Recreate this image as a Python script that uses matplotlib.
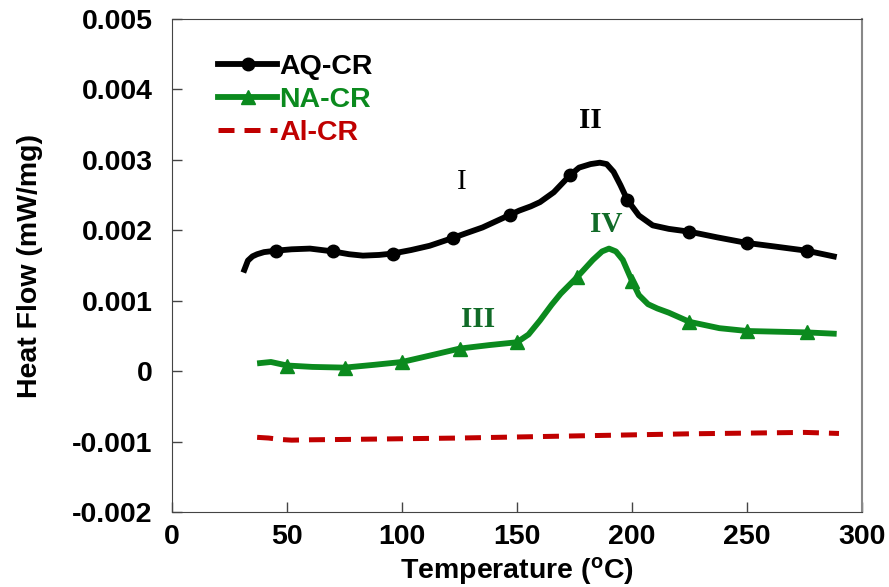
import numpy as np
import matplotlib
matplotlib.use('Agg')
import matplotlib.pyplot as plt

plt.rcParams['font.family'] = 'Liberation Sans'
plt.rcParams['font.weight'] = 'bold'
plt.rcParams['axes.labelweight'] = 'bold'
plt.rcParams['mathtext.fontset'] = 'custom'
plt.rcParams['mathtext.rm'] = 'Liberation Sans:bold'
plt.rcParams['mathtext.default'] = 'rm'

# AQ-CR (black, circles)  heat flow in 1e-3 mW/mg
aq_t = [31, 33, 35, 37, 40, 45, 52, 60, 70, 77, 83, 90, 96, 104, 112, 122, 128, 135, 141,
        147, 151, 156, 160, 166, 173, 177, 182, 186, 189, 192, 195, 198, 203, 209, 216,
        225, 237, 250, 262, 276, 289]
aq_hf = [1.40, 1.57, 1.63, 1.66, 1.69, 1.71, 1.73, 1.74, 1.70, 1.66, 1.64, 1.65, 1.67,
         1.72, 1.78, 1.89, 1.96, 2.04, 2.13, 2.22, 2.28, 2.34, 2.40, 2.54, 2.78, 2.89,
         2.94, 2.96, 2.94, 2.83, 2.64, 2.43, 2.21, 2.07, 2.02, 1.98, 1.90, 1.82, 1.77,
         1.71, 1.62]
aq_marks = [45, 70, 96, 122, 147, 173, 198, 225, 250, 276]

# NA-CR (green, triangles)
na_t = [37, 43, 50, 61, 75, 88, 100, 112, 125, 138, 150, 155, 160, 165, 169, 176, 183,
        187, 190, 193, 196, 200, 203, 207, 211, 216, 225, 238, 250, 263, 276, 289]
na_hf = [0.11, 0.13, 0.08, 0.06, 0.05, 0.09, 0.13, 0.22, 0.32, 0.37, 0.41, 0.52, 0.72,
         0.94, 1.10, 1.33, 1.58, 1.70, 1.74, 1.70, 1.58, 1.28, 1.08, 0.95, 0.89, 0.83,
         0.70, 0.61, 0.57, 0.56, 0.55, 0.53]
na_marks = [50, 75, 100, 125, 150, 176, 200, 225, 250, 276]

# Al-CR (red, dashed)
al_t = [37, 42, 47, 52, 60, 75, 100, 125, 150, 175, 200, 225, 250, 275, 290]
al_hf = [-0.94, -0.95, -0.97, -0.98, -0.975, -0.97, -0.96, -0.95, -0.935, -0.92,
         -0.905, -0.89, -0.88, -0.87, -0.885]

peak_labels = ['I', 'II', 'III', 'IV']
peak_t = [126, 182, 133, 189]
peak_hf = [2.68, 3.56, 0.73, 2.08]

black = '#000000'
green = '#0b8a1e'
green_txt = '#116b28'
red = '#c00000'
fs = 20.5

fig = plt.figure(figsize=(8.89, 5.87), dpi=100)
ax = fig.add_axes([0.1935, 0.1278, 0.7761, 0.8398])

aq_y = np.array(aq_hf) * 1e-3
na_y = np.array(na_hf) * 1e-3
al_y = np.array(al_hf) * 1e-3

ax.plot(aq_t, aq_y, color=black, lw=4.2, solid_joinstyle='round', solid_capstyle='butt')
ax.plot(aq_marks, np.interp(aq_marks, aq_t, aq_y), 'o', color=black, ms=9, ls='none')
ax.plot(na_t, na_y, color=green, lw=4.2, solid_joinstyle='round', solid_capstyle='butt')
ax.plot(na_marks, np.interp(na_marks, na_t, na_y), '^', color=green, ms=9.5, ls='none')
ax.plot(al_t, al_y, color=red, lw=3.6, dashes=(3.2, 2.0))

# legend proxies
ax.plot([], [], color=black, lw=4.2, marker='o', ms=9, label='AQ-CR')
ax.plot([], [], color=green, lw=4.2, marker='^', ms=9.5, label='NA-CR')
ax.plot([], [], color=red, lw=3.6, dashes=(3.2, 2.0), label='Al-CR')
h, l = ax.get_legend_handles_labels()
leg = ax.legend(h, l, loc='upper left', bbox_to_anchor=(0.03, 0.982), frameon=False,
                fontsize=fs, handlelength=2.05, handletextpad=0.1, labelspacing=0.25,
                numpoints=1, labelcolor=[black, green, red])

for lab, t, v in zip(peak_labels, peak_t, peak_hf):
    c = black if lab in ('I', 'II') else green_txt
    w = 'normal' if lab == 'I' else 'bold'
    ax.text(t, v * 1e-3, lab, color=c, fontsize=21, family='Liberation Serif',
            weight=w, ha='center', va='center')

ax.set_xlim(0, 300)
ax.set_ylim(-0.002, 0.005)
ax.set_xticks(np.arange(0, 301, 50))
ax.set_yticks(np.arange(-0.002, 0.0051, 0.001))
ax.set_yticklabels(['-0.002', '-0.001', '0', '0.001', '0.002', '0.003', '0.004', '0.005'])
ax.tick_params(direction='in', length=7, width=1, labelsize=fs, color='#444444')
ax.tick_params(axis='y', pad=14)
ax.tick_params(axis='x', pad=9)
for s in ['left', 'bottom', 'top']:
    ax.spines[s].set_color('#444444')
ax.spines['right'].set_color('#888888')
ax.spines['right'].set_linewidth(1.5)

ax.set_xlabel('Temperature ($^{o}$C)', fontsize=fs, fontweight='bold', labelpad=3)
ax.set_ylabel('Heat Flow (mW/mg)', fontsize=fs, fontweight='bold', labelpad=21)

fig.savefig('out.png', dpi=100)
